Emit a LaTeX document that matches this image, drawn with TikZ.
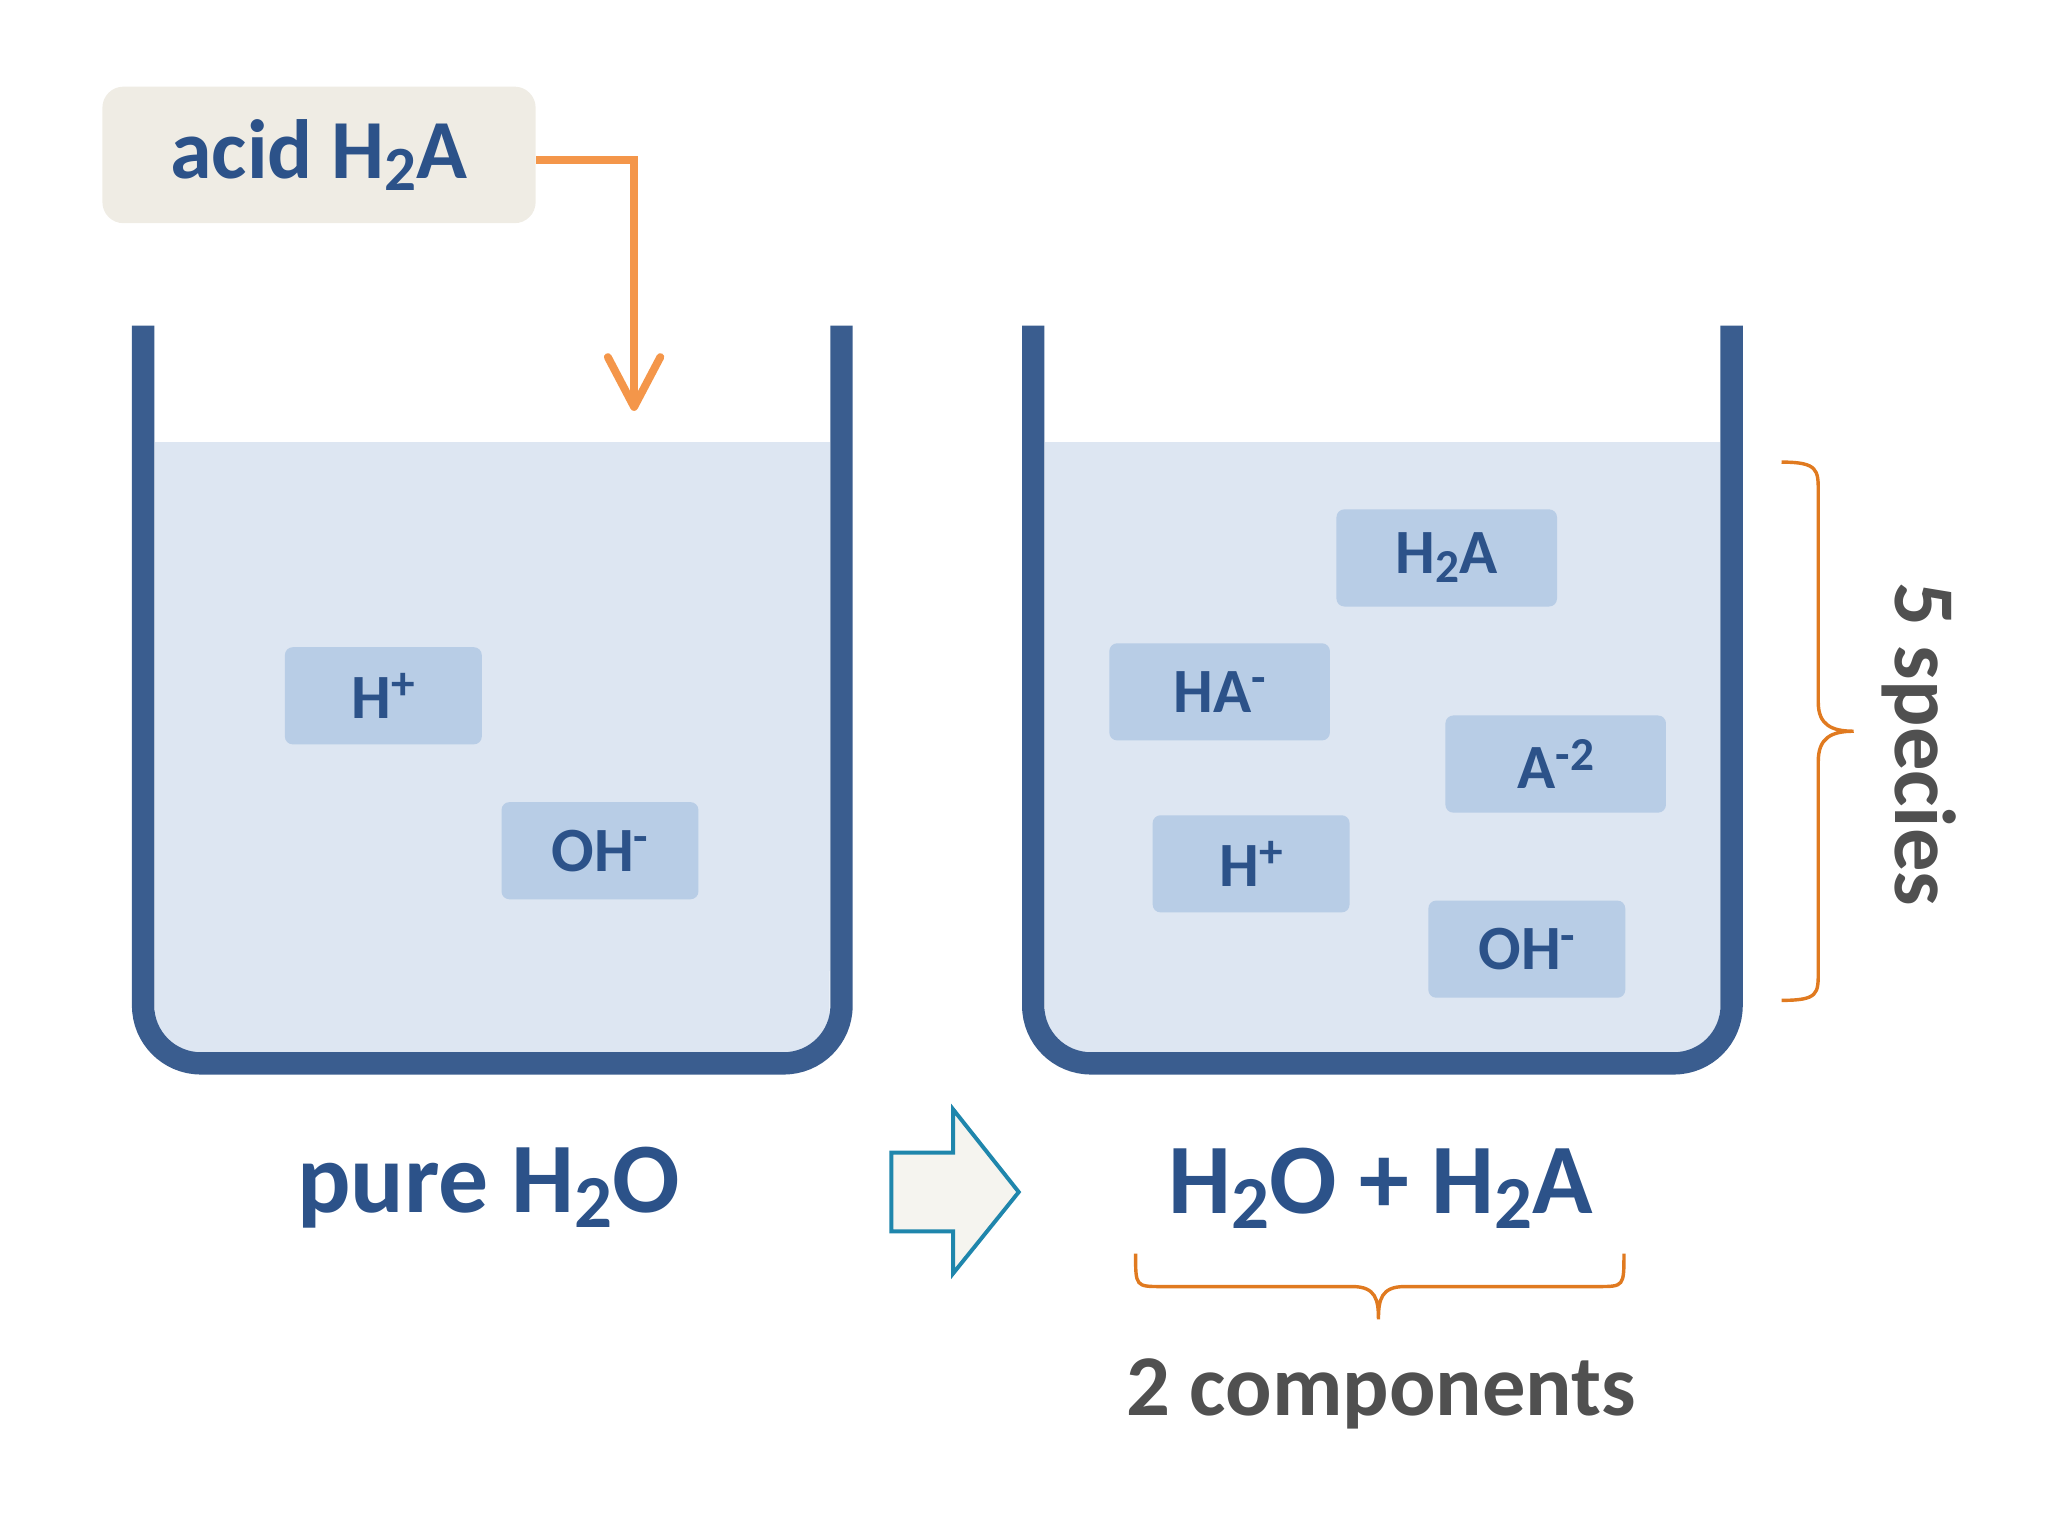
\documentclass[tikz,border=0pt]{standalone}
\usepackage{fontspec}
\setmainfont{Carlito}
\newcommand{\mysb}[1]{\raisebox{-0.3ex}{\scalebox{0.75}{#1}}}
\newcommand{\mysp}[1]{\raisebox{0.6ex}{\scalebox{0.75}{#1}}}
\begin{document}
\begin{tikzpicture}[x=0.5pt,y=-0.5pt,
  wall/.style={draw=beak,line width=8.5pt},
  spbox/.style={fill=spc,rounded corners=3pt,minimum width=75pt,minimum height=37pt,font=\fontsize{24}{26}\selectfont\bfseries,text=txt},
  bigtxt/.style={font=\fontsize{38}{40}\selectfont\bfseries,text=txt},
  greytxt/.style={font=\fontsize{33}{36}\selectfont\bfseries,text=gry},
  brace/.style={draw=org,line width=1.3pt}]
\definecolor{beak}{HTML}{3A5D8F}
\definecolor{water}{HTML}{DDE6F2}
\definecolor{spc}{HTML}{B8CDE6}
\definecolor{txt}{HTML}{2C5289}
\definecolor{gry}{HTML}{505050}
\definecolor{org}{HTML}{E07A20}
\definecolor{arr}{HTML}{F4964A}
\definecolor{acidbg}{HTML}{EFECE4}
\useasboundingbox (0,0) rectangle (1560,1170);
% left beaker
\fill[water] (118,337) rectangle (632,740);
\fill[water,rounded corners=16pt] (118,700) rectangle (632,802);
\draw[wall,rounded corners=22pt] (109,248) -- (109,810) -- (641,810) -- (641,248);
% right beaker
\fill[water] (796,337) rectangle (1310,740);
\fill[water,rounded corners=16pt] (796,700) rectangle (1310,802);
\draw[wall,rounded corners=22pt] (787,248) -- (787,810) -- (1319,810) -- (1319,248);
% acid box
\node[fill=acidbg,rounded corners=8pt,minimum width=165pt,minimum height=52pt,font=\fontsize{32}{34}\selectfont\bfseries,text=txt] (acid) at (243,118) {acid H\mysb{2}A};
\coordinate (drop) at (483,310);
\draw[arr,line width=3pt] (acid.east |- 0,122) -- (483,122) -- (drop);
\draw[arr,line width=3pt,line cap=round,line join=round] (463,272) -- (drop) -- (503,272);
% species left
\node[spbox] (hl) at (292,530) {H\mysp{+}};
\node[spbox] (ohl) at (457,648) {OH\mysp{-}};
% species right
\node[spbox,minimum width=84pt] (h2a) at (1102,425) {H\mysb{2}A};
\node[spbox,minimum width=84pt] (ha) at (929,527) {HA\mysp{-}};
\node[spbox,minimum width=84pt] (a2) at (1185,582) {A\mysp{-2}};
\node[spbox] (hr) at (953,658) {H\mysp{+}};
\node[spbox] (ohr) at (1163,723) {OH\mysp{-}};
% labels
\node[bigtxt] (pure) at (372,905) {pure H\mysb{2}O};
\node[bigtxt] (mix) at (1052,905) {H\mysb{2}O + H\mysb{2}A};
\node[greytxt] (comp) at (1052,1062) {2 components};
\node[greytxt,rotate=-90] (spec) at (1462,567) {5 species};
% block arrow
\draw[fill=acidbg!60!white,draw=txt!70!cyan,line width=1.5pt] (679,878) -- (726,878) -- (726,845) -- (776,908) -- (726,970) -- (726,938) -- (679,938) -- cycle;
% bottom brace
\draw[brace] (865,955) .. controls (865,980) and (865,980) .. (885,980) -- (1030,980) .. controls (1048,980) and (1050,990) .. (1050,1005) .. controls (1050,990) and (1052,980) .. (1070,980) -- (1217,980) .. controls (1237,980) and (1237,980) .. (1237,955);
% right brace
\draw[brace] (1357,352) .. controls (1385,352) and (1385,358) .. (1385,375) -- (1385,535) .. controls (1385,552) and (1395,557) .. (1412,557) .. controls (1395,557) and (1385,562) .. (1385,580) -- (1385,740) .. controls (1385,757) and (1385,762) .. (1357,762);
\end{tikzpicture}
\end{document}
